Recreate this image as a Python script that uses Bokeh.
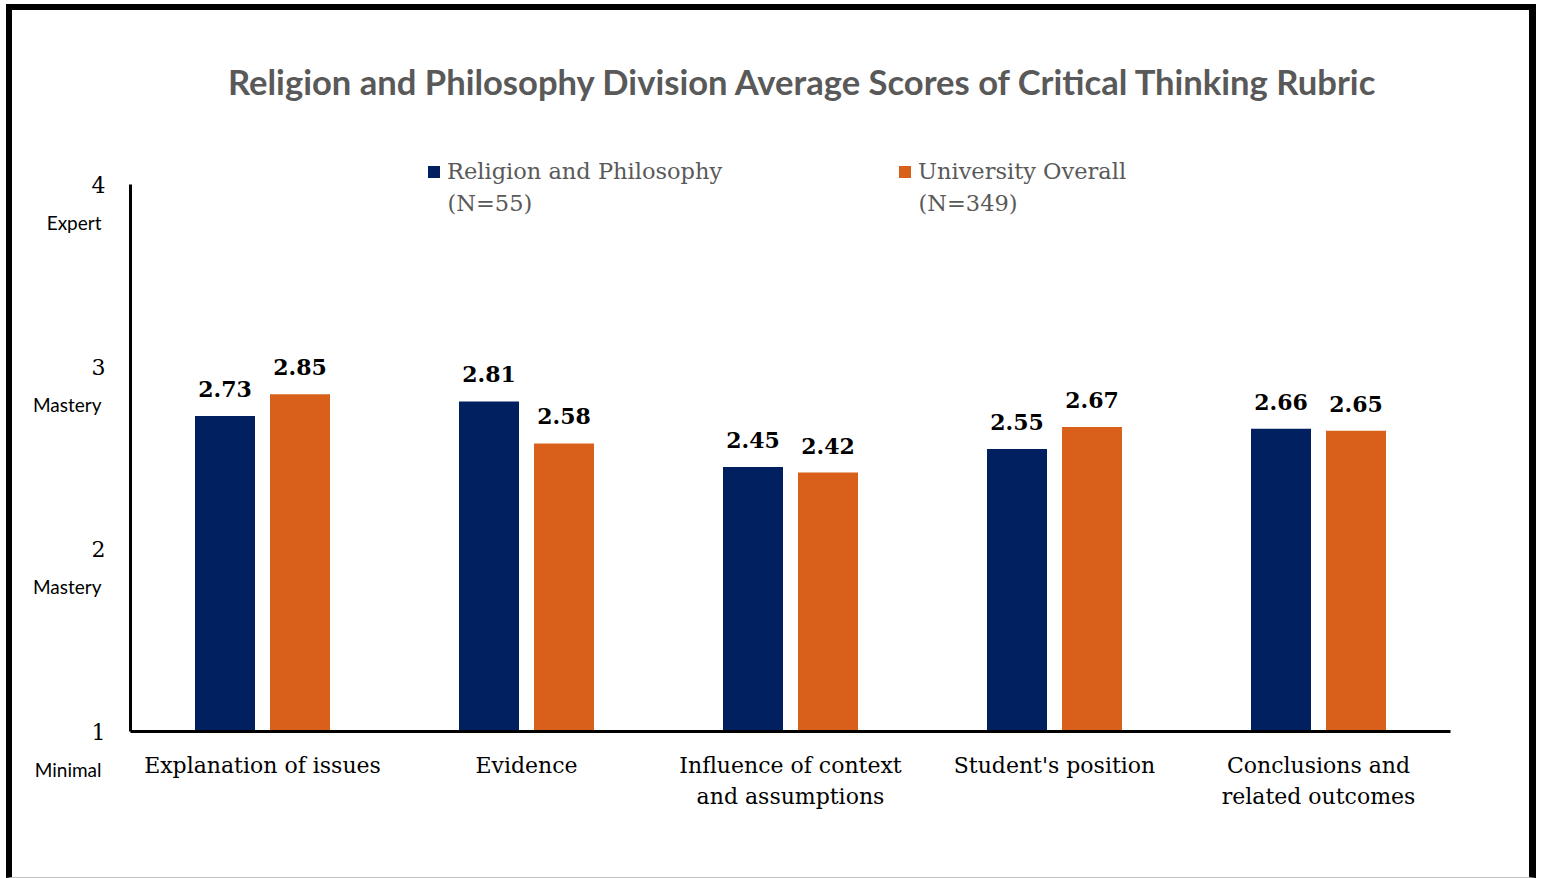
from bokeh.plotting import figure
from bokeh.models import (ColumnDataSource, Label, Legend, LegendItem,
                          FixedTicker, Range1d, LinearAxis)
from bokeh.transform import dodge
from bokeh.embed import file_html
from bokeh.resources import INLINE
from bokeh.core.properties import value

# ---- data ----
title_text = "Religion and Philosophy Division Average Scores of Critical Thinking Rubric"
categories = ["Explanation of issues", "Evidence", "Influence of context\nand assumptions",
              "Student's position", "Conclusions and\nrelated outcomes"]
religion = [2.73, 2.81, 2.45, 2.55, 2.66]
university = [2.85, 2.58, 2.42, 2.67, 2.65]
series_names = ["Religion and Philosophy", "University Overall"]
series_counts = ["(N=55)", "(N=349)"]
y_ticks = [1, 2, 3, 4]
y_levels = ["Minimal", "Mastery", "Mastery", "Expert"]

NAVY = "#002060"
ORANGE = "#D9601A"
GREY = "#595959"
SERIF = "DejaVu Serif"
SANS = "Lato"

x_pos = [i + 0.5 for i in range(len(categories))]
source = ColumnDataSource(dict(
    x=x_pos,
    religion=religion,
    university=university,
    religion_txt=[f"{v:.2f}" for v in religion],
    university_txt=[f"{v:.2f}" for v in university],
))

UNIT_X = 264.0      # pixels per category
UNIT_Y = 547 / 3.0  # pixels per rubric point
FRAME_W, FRAME_H = 1399, 721

p = figure(
    x_range=Range1d(0, FRAME_W / UNIT_X),
    y_range=Range1d(1, 1 + FRAME_H / UNIT_Y),
    frame_width=FRAME_W, frame_height=FRAME_H,
    min_border_left=118, min_border_right=0,
    min_border_top=0, min_border_bottom=146,
    output_backend="svg", toolbar_location=None,
    background_fill_color="white", border_fill_color="white",
)
p.outline_line_color = None
p.xgrid.visible = False
p.ygrid.visible = False
p.styles = {
    "margin-left": "6px", "margin-top": "4px",
    "border-left": "6px solid black", "border-top": "6px solid black",
    "border-right": "7px solid black", "border-bottom": "1px solid #BFBFBF",
}

bar_w = 60 / UNIT_X
shift = 37.5 / UNIT_X
r1 = p.vbar(x=dodge("x", -shift), bottom=1, top="religion",
            width=bar_w, source=source, fill_color=NAVY, line_color=None)
r2 = p.vbar(x=dodge("x", shift), bottom=1, top="university",
            width=bar_w, source=source, fill_color=ORANGE, line_color=None)

# value labels above bars
for col, txt, off in (("religion", "religion_txt", -shift), ("university", "university_txt", shift)):
    p.text(x=dodge("x", off), y=col, text=txt, source=source,
           text_align="center", text_baseline="alphabetic", y_offset=-27,
           text_font=value(SERIF), text_font_style="bold", text_font_size="22px",
           text_color="black")

# category axis
xa = p.xaxis[0]
xa.ticker = FixedTicker(ticks=x_pos)
xa.major_label_overrides = {x: c for x, c in zip(x_pos, categories)}
xa.bounds = (0, len(categories))
xa.axis_line_width = 3
xa.axis_line_color = "black"
xa.major_tick_line_color = None
xa.minor_tick_line_color = None
xa.major_label_text_font = SERIF
xa.major_label_text_font_size = "22px"
xa.major_label_text_color = "black"
xa.major_label_text_line_height = 1.27
xa.major_label_standoff = 15

# score axis
ya = p.yaxis[0]
ya.ticker = FixedTicker(ticks=y_ticks)
ya.bounds = (y_ticks[0], y_ticks[-1])
ya.axis_line_width = 3
ya.axis_line_color = "black"
ya.major_tick_line_color = None
ya.minor_tick_line_color = None
ya.major_label_text_font = SERIF
ya.major_label_text_font_size = "22px"
ya.major_label_text_color = "black"
ya.major_label_standoff = 19

# level names, set one line below each score
la = LinearAxis(ticker=FixedTicker(ticks=y_ticks),
                major_label_overrides={t: "\n" + n for t, n in zip(y_ticks, y_levels)})
la.axis_line_color = None
la.major_tick_line_color = None
la.minor_tick_line_color = None
la.major_label_text_font = SANS
la.major_label_text_font_size = "19px"
la.major_label_text_color = "black"
la.major_label_text_line_height = 3.28
la.major_label_standoff = -19
p.add_layout(la, "left")

# title
p.add_layout(Label(x=673, y=650, x_units="screen", y_units="screen", text=title_text,
                   text_align="center", text_baseline="middle", text_font=SANS,
                   text_font_style="bold", text_font_size="34.6px", text_color=GREY))

# legends
for r, name, count, gx in ((r1, series_names[0], series_counts[0], 296),
                           (r2, series_names[1], series_counts[1], 767)):
    lg = Legend(items=[LegendItem(label=name, renderers=[r])], location=(gx, 545),
                orientation="horizontal", glyph_width=15, glyph_height=15,
                label_text_font=SERIF, label_text_font_size="22.5px",
                label_text_color=GREY, label_height=30,
                label_standoff=6, padding=0, margin=0, spacing=0,
                border_line_alpha=0, background_fill_alpha=0)
    p.add_layout(lg, "center")
    p.add_layout(Label(x=gx + 21, y=529, x_units="screen", y_units="screen", text=count,
                       text_align="left", text_baseline="middle", text_font=SERIF,
                       text_font_size="22.5px", text_color=GREY))

open("out.html", "w").write(file_html(p, INLINE))
